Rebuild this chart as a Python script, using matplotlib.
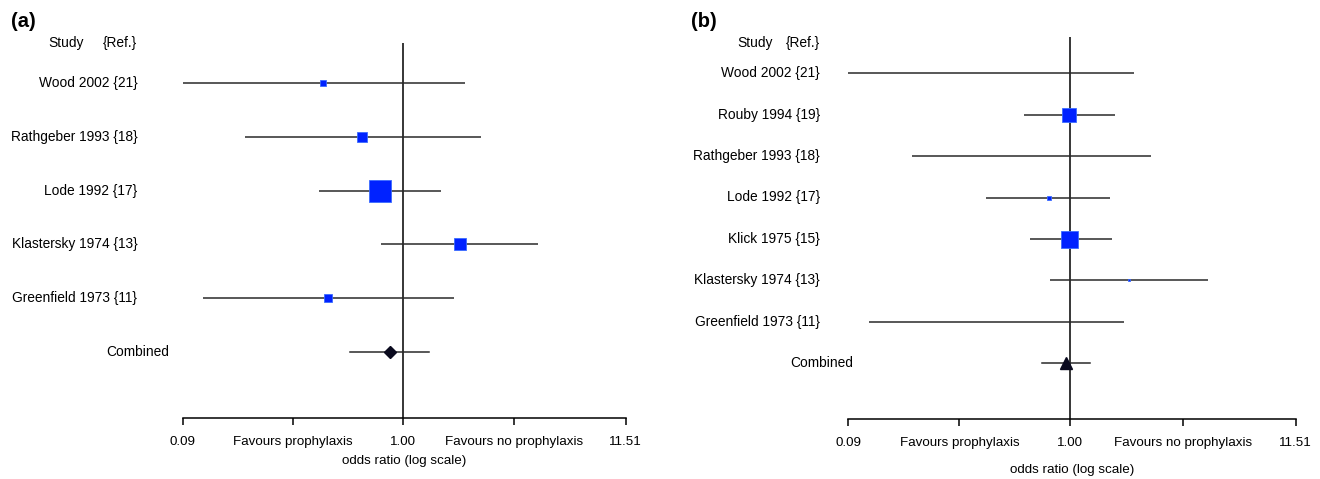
import numpy as np
import matplotlib
matplotlib.use("Agg")
import matplotlib.pyplot as plt
from matplotlib.transforms import blended_transform_factory

# ---------------- data ----------------
studies_a = ["Wood 2002 {21}", "Rathgeber 1993 {18}", "Lode 1992 {17}",
             "Klastersky 1974 {13}", "Greenfield 1973 {11}"]
or_a = [0.42, 0.64, 0.78, 1.88, 0.44]
lo_a = [0.09, 0.178, 0.40, 0.79, 0.112]
hi_a = [1.97, 2.36, 1.52, 4.41, 1.76]
box_a = [0.30, 0.43, 1.00, 0.54, 0.37]          # relative box size (weight)
comb_a = [0.87, 0.56, 1.33]                      # estimate, lower, upper

studies_b = ["Wood 2002 {21}", "Rouby 1994 {19}", "Rathgeber 1993 {18}",
             "Lode 1992 {17}", "Klick 1975 {15}", "Klastersky 1974 {13}",
             "Greenfield 1973 {11}"]
or_b = [0.42, 0.99, 0.64, 0.79, 0.98, 1.89, 0.44]
lo_b = [0.09, 0.607, 0.179, 0.40, 0.648, 0.80, 0.113]
hi_b = [1.99, 1.63, 2.40, 1.54, 1.57, 4.45, 1.79]
box_b = [0.0, 0.82, 0.0, 0.24, 1.00, 0.12, 0.0]
comb_b = [0.95, 0.736, 1.24]

tick_vals = [0.09, 0.30, 1.00, 3.39, 11.51]
tick_labels = ["0.09", "Favours prophylaxis", "1.00", "Favours no prophylaxis", "11.51"]
xlabel = "odds ratio (log scale)"

# ---------------- figure ----------------
plt.rcParams["font.family"] = ["Liberation Sans", "DejaVu Sans"]
plt.rcParams["font.size"] = 9.9
W, H = 1320, 479
DPI = 100
fig = plt.figure(figsize=(W / DPI, H / DPI), dpi=DPI)
PT = 72.0 / DPI


def rect(left, top, right, bottom):
    return [left / W, 1 - bottom / H, (right - left) / W, (bottom - top) / H]


def panel(tag, names, est, lo, hi, box, comb, ax_px, row0, pitch,
          lab_right, comb_right, study_right, tag_x, header_y, xlab_y, max_box,
          comb_marker, comb_ms):
    left, top, right, bottom = ax_px
    ax = fig.add_axes(rect(left, top, right, bottom))
    ax.set_xscale("log")
    ax.set_xlim(tick_vals[0], tick_vals[-1])
    n = len(names)
    ax.set_ylim((bottom - row0) / pitch, (top - row0) / pitch)
    ax.axvline(1.0, color="black", lw=1.1, zorder=1)
    ypos = np.arange(n)
    for i in range(n):
        ax.plot([lo[i], hi[i]], [ypos[i], ypos[i]], color="#2a2a2a", lw=1.1,
                solid_capstyle="butt", zorder=2, clip_on=False)
        if box[i] > 0:
            ax.plot(est[i], ypos[i], marker="s", ms=box[i] * max_box * PT,
                    mfc="#0022ff", mec="#3a6bff", mew=0.6, zorder=3,
                    clip_on=False, ls="none")
    yc = n
    ax.plot([comb[1], comb[2]], [yc, yc], color="#2a2a2a", lw=1.1, zorder=2)
    ax.plot(comb[0], yc, marker=comb_marker, ms=comb_ms, mfc="#0a0a1e",
            mec="#0a0a1e", zorder=3, ls="none", clip_on=False)

    for s in ["left", "top", "right"]:
        ax.spines[s].set_visible(False)
    ax.spines["bottom"].set_linewidth(1.1)
    ax.set_yticks([])
    ax.set_xticks(tick_vals)
    ax.set_xticklabels(tick_labels)
    ax.xaxis.set_minor_locator(matplotlib.ticker.NullLocator())
    ax.tick_params(axis="x", direction="out", length=5.2, width=1.1, pad=7.5,
                   labelsize=9.6)
    ax.patch.set_alpha(0)

    tr = blended_transform_factory(fig.transFigure, ax.transData)
    for i in range(n):
        ax.text(lab_right / W, ypos[i], names[i], transform=tr, ha="right",
                va="center")
    ax.text(comb_right / W, yc, "Combined", transform=tr, ha="right", va="center")
    fig.text(study_right / W, 1 - header_y / H, "Study", ha="right", va="center")
    fig.text(lab_right / W, 1 - header_y / H, "{Ref.}", ha="right", va="center")
    fig.text(tag_x / W, 1 - 21.7 / H, tag, ha="left", va="center",
             fontsize=14.5, fontweight="bold")
    fig.text((left + right) / 2 / W, 1 - xlab_y / H, xlabel, ha="center",
             va="center", fontsize=9.6)
    return ax


panel("(a)", studies_a, or_a, lo_a, hi_a, box_a, comb_a,
      (182.7, 42.7, 625.7, 418.0), 83.3, 53.7,
      137.5, 169.0, 83.5, 11.0, 42.7, 461.0, 23.0, "D", 6.3)
panel("(b)", studies_b, or_b, lo_b, hi_b, box_b, comb_b,
      (848.3, 37.0, 1295.7, 419.3), 73.3, 41.4,
      820.0, 853.0, 773.0, 691.0, 42.7, 470.0, 17.0, "^", 8.0)

fig.savefig("out.png", dpi=DPI)
